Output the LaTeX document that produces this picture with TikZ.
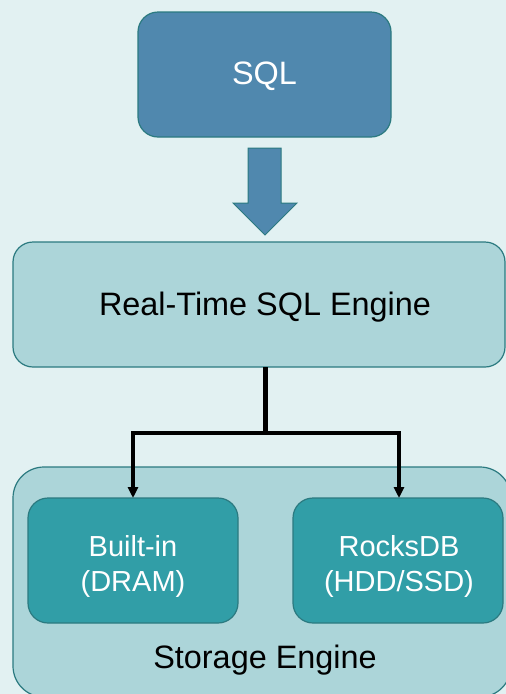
\documentclass[tikz,border=0pt]{standalone}
\usepackage{fontspec}
\setmainfont{Liberation Sans}
\usetikzlibrary{arrows.meta}
\definecolor{bg}{HTML}{E2F1F2}
\definecolor{edge}{HTML}{2B7A80}
\definecolor{sqlfill}{HTML}{5088AE}
\definecolor{lightfill}{HTML}{ACD5D9}
\definecolor{tealfill}{HTML}{319EA7}
\tikzset{
  x=1pt, y=-1pt,
  box/.style={draw=edge, line width=1.2pt, rounded corners=#1},
  box/.default=20pt,
  bigtext/.style={font=\fontsize{32.4}{38}\selectfont},
  smalltext/.style={font=\fontsize{29}{35}\selectfont, align=center, text=white},
  link/.style={line width=3.2pt, draw=black},
  tip/.style={-{Triangle[length=11pt,width=10pt]}}
}
\begin{document}
\begin{tikzpicture}
  % canvas
  \fill[bg] (0,0) rectangle (506,694);
  \useasboundingbox (0,0) rectangle (506,694);
  \begin{scope}
    \clip (0,0) rectangle (506,694);

    % query box
    \draw[box, fill=sqlfill] (138,12) rectangle (391,137);
    \node[bigtext, text=white] (sql) at (264.5,76) {SQL};

    % block arrow
    \draw[draw=edge, line width=1pt, fill=sqlfill]
      (248,148) -- (281,148) -- (281,203) -- (297,203) -- (265,235)
      -- (233,203) -- (248,203) -- cycle;

    % engine box
    \draw[box, fill=lightfill] (13,242) rectangle (505,367);
    \node[bigtext] (engine) at (265,307) {Real-Time SQL Engine};
    \coordinate (engbot) at (265.5,367);

    % storage box
    \draw[box=31pt, fill=lightfill] (13,467) rectangle (511,697);
    \node[bigtext] (storage) at (265,660) {Storage Engine};

    % storage back ends
    \draw[box, fill=tealfill] (28,498) rectangle (238,623);
    \node[smalltext] (builtin) at (133,566) {Built-in\\(DRAM)};
    \coordinate (builtintop) at (133,498);
    \draw[box, fill=tealfill] (293,498) rectangle (503,623);
    \node[smalltext] (rocks) at (399,566) {RocksDB\\(HDD/SSD)};
    \coordinate (rockstop) at (399,498);

    % fan-out connector
    \coordinate (split) at (265.5,433);
    \draw[line width=4.4pt] (engbot) -- (split);
    \draw[link, tip] (split) -| (builtintop);
    \draw[link, tip] (split) -| (rockstop);
  \end{scope}
\end{tikzpicture}
\end{document}
